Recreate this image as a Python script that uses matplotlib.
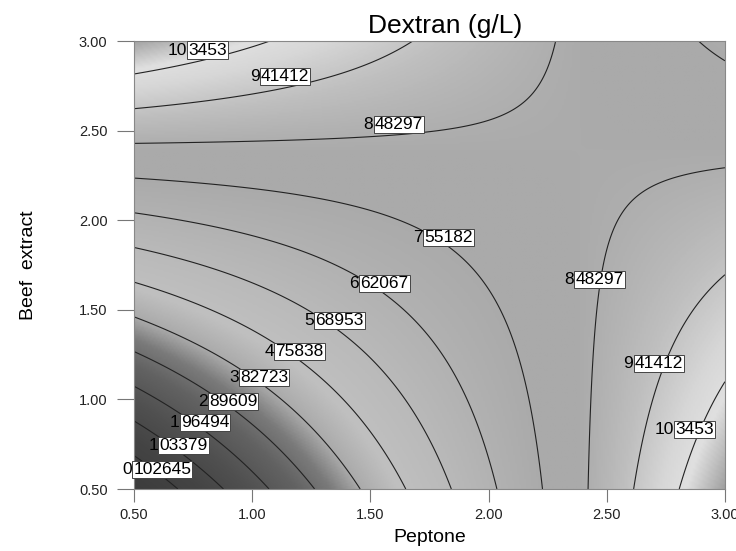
import numpy as np
import matplotlib
matplotlib.use('Agg')
import matplotlib.pyplot as plt
from matplotlib.colors import LinearSegmentedColormap, Normalize

plt.rcParams['font.family'] = ['Liberation Sans', 'DejaVu Sans']

# fitted response surface (Dextran, g/L) : b0 + b1*P + b2*B + b12*P*B
b0, b1, b2, b12 = -6.252, 6.104, 6.084, -2.548

peptone_range = [0.5, 3.0]
beef_range = [0.5, 3.0]
ticks = [0.5, 1.0, 1.5, 2.0, 2.5, 3.0]

levels = [0.102645, 1.03379, 1.96494, 2.89609, 3.82723, 4.75838,
          5.68953, 6.62067, 7.55182, 8.48297, 9.41412, 10.3453]

# contour label spots (peptone, beef, level)
lab_x = [0.60, 0.69, 0.78, 0.90, 1.03, 1.18, 1.35, 1.54, 1.81, 1.60, 1.12, 0.79, 2.45, 2.70, 2.85]
lab_y = [0.61, 0.745, 0.87, 0.99, 1.12, 1.265, 1.44, 1.645, 1.905, 2.535, 2.80, 2.95, 1.67, 1.20, 0.83]
lab_txt = ['0.102645', '1.03379', '1.96494', '2.89609', '3.82723', '4.75838', '5.68953',
           '6.62067', '7.55182', '8.48297', '9.41412', '10.3453', '8.48297', '9.41412', '10.3453']

# grey shading of the original colour map (value -> grey level)
shade_val = [-0.8, 0.5, 1.5, 2.5, 3.2, 3.8, 4.6, 5.6, 6.6, 7.6, 8.3, 9.2, 10.0, 10.5, 11.3]
shade_grey = [60, 68, 80, 98, 122, 170, 192, 186, 178, 170, 170, 190, 215, 224, 160]

p = np.linspace(peptone_range[0], peptone_range[1], 300)
b = np.linspace(beef_range[0], beef_range[1], 300)
P, B = np.meshgrid(p, b)
Z = b0 + b1 * P + b2 * B + b12 * P * B

vmin, vmax = shade_val[0], shade_val[-1]
stops = [((v - vmin) / (vmax - vmin), (g / 255, g / 255, g / 255)) for v, g in zip(shade_val, shade_grey)]
cmap = LinearSegmentedColormap.from_list('greys_de', stops)

fig = plt.figure(figsize=(7.36, 5.51), dpi=100)
ax = fig.add_axes([0.182, 0.1125, 0.803, 0.813])

ax.imshow(Z, origin='lower', extent=[0.5, 3, 0.5, 3], aspect='auto', cmap=cmap,
          norm=Normalize(vmin, vmax), interpolation='bilinear')
ax.contour(P, B, Z, levels=levels, colors='#222222', linewidths=0.8)

for x, y, t in zip(lab_x, lab_y, lab_txt):
    whole, dec = t.split('.')
    lab = ax.text(x + 0.02, y, dec, fontsize=12.5, ha='center', va='center', zorder=5,
                  bbox=dict(boxstyle='square,pad=0.06', fc='white', ec='#444444', lw=0.7))
    ax.annotate(whole, xy=(0, 0.5), xycoords=lab, ha='right', va='center',
                fontsize=12.5, zorder=5, xytext=(-1, 0), textcoords='offset points')

ax.set_xlim(0.5, 3)
ax.set_ylim(0.5, 3)
ax.set_xticks(ticks)
ax.set_yticks(ticks)
ax.set_xticklabels(['%.2f' % t for t in ticks])
ax.set_yticklabels(['%.2f' % t for t in ticks])
ax.tick_params(axis='both', colors='#777777', labelcolor='#222222', labelsize=10.5, width=0.8)
ax.tick_params(axis='y', length=12, pad=7)
ax.tick_params(axis='x', length=9, pad=5)
for s in ax.spines.values():
    s.set_color('#888888')
    s.set_linewidth(0.8)

ax.set_xlabel('Peptone', fontsize=14, labelpad=5)
ax.set_ylabel('Beef  extract', fontsize=14, labelpad=30)
fig.text(0.605, 0.94, 'Dextran (g/L)', ha='center', va='baseline', fontsize=19)

fig.savefig('out.png', dpi=100)
